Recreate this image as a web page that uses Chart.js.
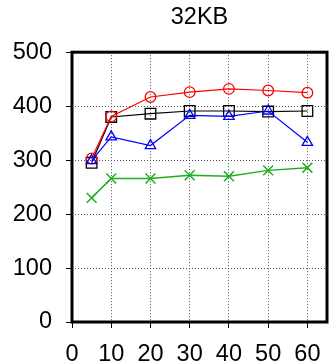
<!DOCTYPE html>
<html>
<head>
<meta charset="utf-8">
<script src="https://cdn.jsdelivr.net/npm/chart.js@4"></script>
<style>
html,body{margin:0;padding:0;background:#fff;}
#wrap{width:329px;height:364px;position:relative;}
</style>
</head>
<body>
<div id="wrap"><canvas id="c" width="329" height="364"></canvas></div>
<script>
const chartTitle = '32KB';
const xValues = [5, 10, 20, 30, 40, 50, 60];
const xTicks = [0, 10, 20, 30, 40, 50, 60];
const yTicks = [0, 100, 200, 300, 400, 500];
const seriesRed = [303, 381, 417, 426, 432, 429, 425];
const seriesBlack = [295, 380, 386, 391, 391, 390, 391];
const seriesBlue = [299, 343, 327, 383, 381, 391, 333];
const seriesGreen = [230, 266, 266, 272, 270, 281, 286];

const pts = arr => xValues.map((x, i) => ({x: x, y: arr[i]}));

const boxPlugin = {
  id: 'box',
  afterLayout(chart) {
    if (chart.titleBlock) {
      chart.titleBlock.left = chart.chartArea.left;
      chart.titleBlock.right = chart.chartArea.right;
    }
  },
  afterDraw(chart) {
    const a = chart.chartArea, ctx = chart.ctx;
    ctx.save();
    ctx.strokeStyle = '#000';
    ctx.lineWidth = 3;
    ctx.strokeRect(a.left, a.top, a.right - a.left, a.bottom - a.top);
    ctx.restore();
  }
};

const font = {family: '"Liberation Sans", Arial, sans-serif', size: 23.5};

new Chart(document.getElementById('c'), {
  type: 'line',
  data: {
    datasets: [
      {data: pts(seriesBlue), borderColor: '#0000ff', backgroundColor: 'transparent', borderWidth: 1.2,
       pointStyle: 'triangle', pointRadius: 6, pointBorderWidth: 1.3, pointBorderColor: '#0000ff'},
      {data: pts(seriesRed), borderColor: '#ff0000', backgroundColor: 'transparent', borderWidth: 1.2,
       pointStyle: 'circle', pointRadius: 5.3, pointBorderWidth: 1.3, pointBorderColor: '#ff0000'},
      {data: pts(seriesBlack), borderColor: '#000000', backgroundColor: 'transparent', borderWidth: 1.2,
       pointStyle: 'rect', pointRadius: 7.5, pointBorderWidth: 1.3, pointBorderColor: '#000000'},
      {data: pts(seriesGreen), borderColor: '#1fae1f', backgroundColor: 'transparent', borderWidth: 1.5,
       pointStyle: 'crossRot', pointRadius: 7, pointBorderWidth: 1.5, pointBorderColor: '#1fae1f'}
    ]
  },
  options: {
    responsive: false,
    animation: false,
    devicePixelRatio: 1,
    layout: {autoPadding: false, padding: {left: 0, right: 2, top: 0, bottom: 0}},
    plugins: {
      legend: {display: false},
      tooltip: {enabled: false},
      title: {display: true, text: chartTitle, color: '#000', font: {family: font.family, size: 23.5, weight: 'normal'},
              padding: {top: 3, bottom: 21}}
    },
    scales: {
      x: {
        type: 'linear', min: 0, max: 65,
        afterBuildTicks: s => { s.ticks = xTicks.map(v => ({value: v})); },
        afterFit: s => { s.height = 42; s.paddingLeft = 0; s.paddingRight = 0; },
        ticks: {color: '#000', font: font, padding: 12, maxRotation: 0, autoSkip: false},
        grid: {color: '#555', lineWidth: 1, tickLength: 6, tickColor: '#000', tickWidth: 1, tickBorderDash: []},
        border: {display: false, dash: [1, 2]}
      },
      y: {
        min: 0, max: 500,
        afterBuildTicks: s => { s.ticks = yTicks.map(v => ({value: v})); },
        afterFit: s => { s.width = 72; s.paddingTop = 0; s.paddingBottom = 0; },
        ticks: {color: '#000', font: font, padding: 14},
        grid: {color: '#555', lineWidth: 1, tickLength: 6, tickColor: '#000', tickWidth: 1, tickBorderDash: []},
        border: {display: false, dash: [1, 2]}
      }
    }
  },
  plugins: [boxPlugin]
});
</script>
</body>
</html>
